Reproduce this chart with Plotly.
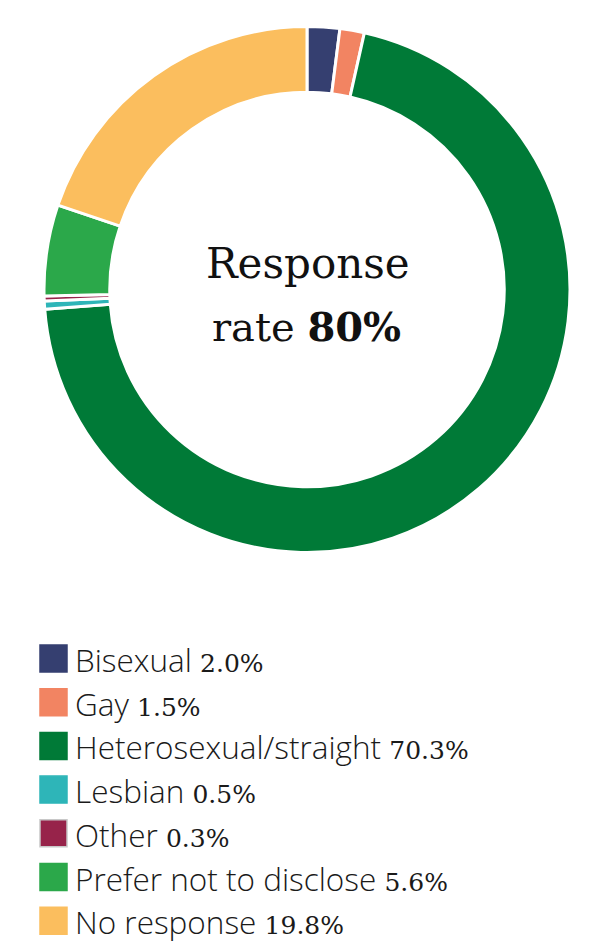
import plotly.graph_objects as go

# Survey breakdown: sexual orientation of respondents (percent)
categories = ["Bisexual", "Gay", "Heterosexual/straight", "Lesbian", "Other",
              "Prefer not to disclose", "No response"]
shares = [2.0, 1.5, 70.3, 0.5, 0.3, 5.6, 19.8]
colors = ["#353F70", "#F28462", "#007A37", "#2EB5B8", "#97234A", "#2BA84A", "#FBBE5E"]
square_edges = ["#353F70", "#F28462", "#007A37", "#2EB5B8", "#C8C8C8", "#2BA84A", "#FBBE5E"]
response_rate = 80

W, H = 615, 951


def px_x(x):
    return x / W


def px_y(y):
    return 1 - y / H


fig = go.Figure()
fig.add_trace(go.Pie(
    labels=categories,
    values=shares,
    sort=False,
    direction="clockwise",
    rotation=0,
    hole=0.75,
    marker=dict(colors=colors, line=dict(color="white", width=3)),
    textinfo="none",
    hoverinfo="label+percent",
    showlegend=False,
    domain=dict(x=[px_x(44), px_x(570)], y=[px_y(553), px_y(26)]),
))

annotations = [
    dict(x=px_x(307.5), y=px_y(263), xref="paper", yref="paper", showarrow=False,
         text="Response", xanchor="center", yanchor="middle",
         font=dict(family="DejaVu Serif", size=42, color="#111111")),
    dict(x=px_x(306), y=px_y(326), xref="paper", yref="paper", showarrow=False,
         text=f"rate <b>{response_rate}%</b>", xanchor="center", yanchor="middle",
         font=dict(family="DejaVu Serif", size=40, color="#111111")),
]
shapes = []

# Hand-built legend: coloured squares with label + serif percentage
row0, step = 658.5, 43.7
for i, (cat, val, col, edge) in enumerate(zip(categories, shares, colors, square_edges)):
    cy = row0 + i * step
    shapes.append(dict(type="rect", xref="paper", yref="paper",
                       x0=px_x(40), x1=px_x(67), y0=px_y(cy + 13.5), y1=px_y(cy - 13.5),
                       fillcolor=col, line=dict(color=edge, width=1.5)))
    annotations.append(dict(
        x=px_x(73), y=px_y(cy + 1), xref="paper", yref="paper", showarrow=False,
        xanchor="left", yanchor="middle",
        text=f"{cat} <span style=\"font-family:DejaVu Serif;font-size:25px;font-weight:400\">{val:.1f}%</span>",
        font=dict(family="Open Sans", size=31.5, color="#1a1a1a", weight=300),
    ))

fig.update_layout(
    width=W, height=H,
    margin=dict(l=0, r=0, t=0, b=0),
    paper_bgcolor="white", plot_bgcolor="white",
    annotations=annotations, shapes=shapes,
    showlegend=False,
)

fig.write_html("out.html")
